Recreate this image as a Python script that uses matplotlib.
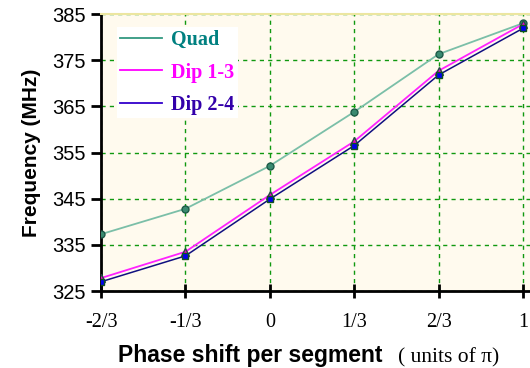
import matplotlib.pyplot as plt
from matplotlib.lines import Line2D

# data
phase = [-2/3, -1/3, 0, 1/3, 2/3, 1]
phase_labels = ['-2/3', '-1/3', '0', '1/3', '2/3', '1']
quad = [337.3, 342.8, 352.1, 363.8, 376.3, 383.0]
dip13 = [327.8, 333.5, 345.8, 357.4, 372.7, 382.8]
dip24 = [327.0, 332.6, 344.9, 356.5, 371.8, 381.9]
yticks = [325, 335, 345, 355, 365, 375, 385]

fig = plt.figure(figsize=(5.30, 3.68), dpi=100)
ax = fig.add_axes([101/530, 1 - 291/368, 1 - 101/530, (291 - 14)/368])
ax.set_facecolor('#fffaee')

ax.plot(phase, quad, color='#7bbfa8', lw=1.3, marker='o', ms=5,
        mfc='#3a8a70', mec='#1d5a48', zorder=3)
ax.plot(phase, dip13, color='#ff22ff', lw=1.3, marker='^', ms=6,
        mfc='#ee00cc', mec='#205040', zorder=4)
ax.plot(phase, dip24, color='#101080', lw=1.1, marker='s', ms=5,
        mfc='#0000ee', mec='#105020', zorder=5)

ax.set_xlim(-2/3, 1 + 7/253.2)
ax.set_ylim(325, 385)
ax.set_xticks(phase)
ax.set_xticklabels(phase_labels, family='Liberation Serif', fontsize=14.5)
ax.set_yticks(yticks)
ax.set_yticklabels([str(v) for v in yticks], family='Liberation Sans', fontsize=14.5)
ax.grid(True, color='#109910', ls=(0, (3, 3)), lw=1)
ax.set_axisbelow(True)

for s in ['left', 'bottom']:
    ax.spines[s].set_linewidth(2)
ax.spines['right'].set_visible(False)
ax.spines['top'].set_color('#ece6a0')
ax.spines['top'].set_linewidth(1.5)
ax.tick_params(axis='y', direction='out', length=7, width=2, pad=4)
ax.tick_params(axis='x', direction='inout', length=10, width=2, pad=11)

ax.set_ylabel('Frequency (MHz)', family='Liberation Sans', fontweight='bold',
              fontsize=15, labelpad=8)
fig.text(118/530, 1 - 362/368, 'Phase shift per segment', family='Liberation Sans',
         fontweight='bold', fontsize=16.5, va='baseline', ha='left')
fig.text(398/530, 1 - 362/368, '( units of \u03c0)', family='Liberation Serif',
         fontsize=15.5, va='baseline', ha='left')

handles = [Line2D([], [], color='#339980', lw=1.3),
           Line2D([], [], color='#ff00ff', lw=1.3),
           Line2D([], [], color='#3300cc', lw=1.3)]
leg = ax.legend(handles, ['Quad', 'Dip 1-3', 'Dip 2-4'], loc='upper left',
                bbox_to_anchor=(0.037, 0.953), borderaxespad=0, frameon=True,
                fancybox=False, edgecolor='none', facecolor='white', framealpha=1,
                prop={'family': 'Liberation Serif', 'weight': 'bold', 'size': 14.5},
                handlelength=2.1, handletextpad=0.45, labelspacing=0.62,
                borderpad=0.15, labelcolor=['#008080', '#ff00ff', '#3300aa'])
leg.get_frame().set_linewidth(0)

fig.savefig('out.png', dpi=100)
